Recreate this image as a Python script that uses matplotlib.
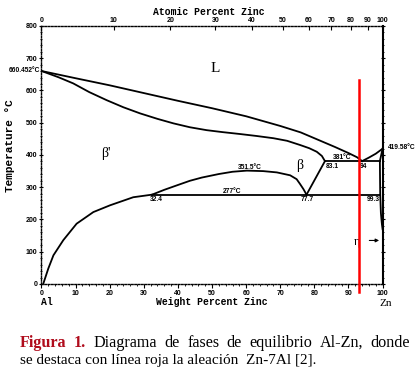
import numpy as np
import matplotlib
matplotlib.use('Agg')
import matplotlib.pyplot as plt
from matplotlib.ticker import MultipleLocator

# phase boundaries, wt% Zn vs temperature (degC)
liq_wt = [0, 10, 20, 30, 40, 50, 60, 70, 76, 82, 86, 90, 92.5, 94]
liq_t = [660.452, 638, 616, 592, 568, 545, 520, 490, 470, 443, 425, 406, 393, 381]

sol_wt = [0, 5, 9.3, 14, 19.1, 24, 28.9, 34, 38.7, 43.5, 48.4, 53, 58.2, 63, 68,
          72, 75.8, 78.5, 80.7, 82.2, 83.1]
sol_t = [660.452, 641, 622, 595, 570, 548, 529, 512, 498, 486, 477, 471, 465, 459, 452,
         444, 431, 421, 410, 397, 381]

alsolv_wt = [0.5, 2, 3.5, 6.4, 10.3, 15.2, 20.1, 26.9, 32.4]
alsolv_t = [0, 48, 89, 136, 187, 223, 244, 269, 277]

dome_wt = [32.4, 36, 40, 43.5, 47, 52, 56, 60.2, 65, 69, 72.9, 74.8, 75.8, 76.8, 77.7]
dome_t = [277, 292, 307, 320, 330, 341, 348, 351.5, 350, 346, 337, 325, 310, 294, 277]

beta_wt = [77.7, 83.1]
beta_t = [277, 381]

zn_liq_wt = [94, 96, 98, 100]
zn_liq_t = [381, 392, 404, 419.58]
zn_sol_wt = [100, 99.2]
zn_sol_t = [419.58, 381]
zn_solv_wt = [99.2, 99.3, 99.5, 99.8, 100]
zn_solv_t = [381, 277, 220, 185, 170]

eutectoid_wt = [32.4, 99.3]
eutectoid_t = [277, 277]
monotectoid_wt = [83.1, 99.2]
monotectoid_t = [381, 381]

alloy_wt = 93
alloy_t = [633, -24]

wt_ticks = list(range(0, 101, 10))
t_ticks = list(range(0, 801, 100))
at_ticks = [0, 10, 20, 30, 40, 50, 60, 70, 80, 90, 100]

caption1 = 'Figura 1. Diagrama de fases de equilibrio Al-Zn, donde'
caption2 = 'se destaca con línea roja la aleación  Zn-7Al [2].'


def at_to_wt(a):
    a = np.asarray(a, dtype=float)
    return 100 * a * 65.38 / (a * 65.38 + (100 - a) * 26.98)


fig = plt.figure(figsize=(4.17, 3.76), dpi=100)
ax = fig.add_axes([0.0995, 0.2447, 0.818, 0.6862])
ax.set_xlim(0, 100)
ax.set_ylim(0, 800)

kw = dict(color='black', lw=1.3)
ax.plot(liq_wt, liq_t, **kw)
ax.plot(sol_wt, sol_t, **kw)
ax.plot(alsolv_wt, alsolv_t, **kw)
ax.plot(dome_wt, dome_t, **kw)
ax.plot(beta_wt, beta_t, **kw)
ax.plot(zn_liq_wt, zn_liq_t, **kw)
ax.plot(zn_sol_wt, zn_sol_t, **kw)
ax.plot(zn_solv_wt, zn_solv_t, **kw)
ax.plot(eutectoid_wt, eutectoid_t, **kw)
ax.plot(monotectoid_wt, monotectoid_t, **kw)

ax.plot([alloy_wt, alloy_wt], alloy_t, color='red', lw=1.8, clip_on=False, zorder=5)

# spines: dotted look, right side solid
for s in ['left', 'bottom', 'top']:
    ax.spines[s].set_linestyle((0, (1.2, 1.2)))
    ax.spines[s].set_linewidth(1.0)
ax.spines['right'].set_linewidth(1.5)

tfont = dict(family='Liberation Sans', weight='bold', size=5)
ax.set_xticks(wt_ticks)
ax.set_xticklabels([str(v) for v in wt_ticks], fontdict=tfont)
ax.set_yticks(t_ticks)
ax.set_yticklabels([str(v) for v in t_ticks], fontdict=tfont)
ax.xaxis.set_minor_locator(MultipleLocator(2))
ax.yaxis.set_minor_locator(MultipleLocator(20))
ax.tick_params(axis='both', which='major', length=3, width=0.8, pad=1.5, direction='out')
ax.tick_params(axis='both', which='minor', length=1.5, width=0.6, direction='out')
ax.tick_params(axis='y', which='both', right=True, direction='inout')

top = ax.secondary_xaxis('top')
top.set_xticks(at_to_wt(at_ticks))
top.set_xticklabels([str(v) for v in at_ticks], fontdict=tfont)
top.tick_params(length=3, width=0.8, pad=1.5, direction='in')
top.spines['top'].set_visible(False)

mono = dict(family='Liberation Mono', weight='bold', size=7)
fig.text(0.5, 0.982, 'Atomic Percent Zinc', ha='center', va='top', **mono)
fig.text(0.508, 0.197, 'Weight Percent Zinc', ha='center', va='center', **mono)
fig.text(0.112, 0.197, 'Al', ha='center', va='center', **mono)
fig.text(0.925, 0.193, 'Zn', ha='center', va='center', family='Liberation Serif', size=8)
fig.text(0.024, 0.614, 'Temperature °C', rotation=90, ha='center', va='center',
         family='Liberation Mono', weight='bold', size=8)

small = dict(family='Liberation Sans', weight='bold', size=4.8)
ax.text(-0.5, 660.452, '660.452°C', ha='right', va='center', clip_on=False, **small)
ax.text(101.5, 422, '419.58°C', ha='left', va='center', clip_on=False, **small)
ax.text(61, 362, '351.5°C', ha='center', va='center', **small)
ax.text(88, 391, '381°C', ha='center', va='center', **small)
ax.text(85.3, 365, '83.1', ha='center', va='center', **small)
ax.text(94.3, 365, '94', ha='center', va='center', **small)
ax.text(56, 288, '277°C', ha='center', va='center', **small)
ax.text(77.9, 262, '77.7', ha='center', va='center', **small)
ax.text(97.3, 262, '99.3', ha='center', va='center', **small)
ax.text(33.8, 262, '32.4', ha='center', va='center', **small)

serif = dict(family='Liberation Serif')
ax.text(51, 668, 'L', ha='center', va='center', size=11, **serif)
ax.text(19, 404, "β'", ha='center', va='center', size=10, **serif)
ax.text(75.6, 367, 'β', ha='center', va='center', size=10, **serif)
ax.text(92.6, 130, 'η', ha='center', va='center', size=9, **serif)
ax.annotate('', xy=(99.8, 135), xytext=(95.3, 135),
            arrowprops=dict(arrowstyle='-|>', color='black', lw=0.8, mutation_scale=5))

# caption, first line justified word by word
x0, x1 = 20, 410
renderer = fig.canvas.get_renderer()
words = caption1.split(' ')
texts = []
for i, w in enumerate(words):
    if i < 2:
        t = fig.text(0, 0.088, w, color='#b00c1c', weight='bold', ha='left', va='center',
                     family='Liberation Serif', size=11.6)
    else:
        t = fig.text(0, 0.088, w, ha='left', va='center', family='Liberation Serif', size=11.6)
    texts.append(t)
widths = [t.get_window_extent(renderer).width for t in texts]
gap = (x1 - x0 - sum(widths)) / (len(words) - 1)
xpos = x0
for t, w in zip(texts, widths):
    t.set_x(xpos / 417)
    xpos += w + gap
fig.text(x0 / 417, 0.04, caption2, ha='left', va='center', family='Liberation Serif', size=11)

plt.savefig('out.png', dpi=100)
